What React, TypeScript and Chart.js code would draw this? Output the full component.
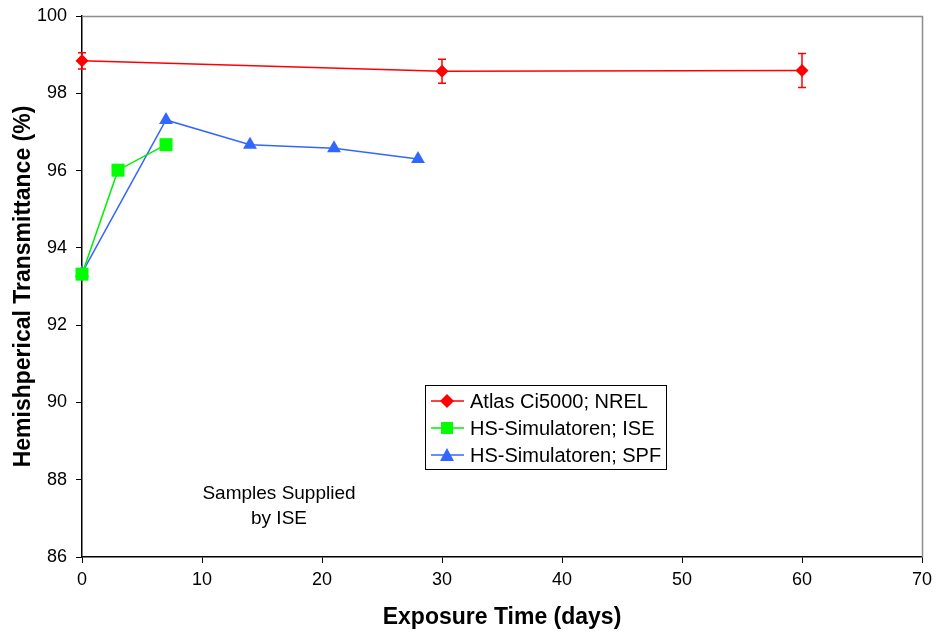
import React, { useEffect, useRef } from "react";
import { Chart, registerables } from "chart.js";
Chart.register(...registerables);

const atlasX = [0, 30, 60];
const atlasY = [98.84, 98.57, 98.59];
const atlasErr = [0.21, 0.31, 0.44];
const iseX = [0, 3, 7];
const iseY = [93.32, 96.01, 96.67];
const spfX = [0, 7, 14, 21, 28];
const spfY = [93.35, 97.31, 96.67, 96.58, 96.3];
const seriesNames = ["Atlas Ci5000; NREL", "HS-Simulatoren; ISE", "HS-Simulatoren; SPF"];
const note = ["Samples Supplied", "by ISE"];

const FONT = "'Liberation Sans', Arial, sans-serif";

export default function App() {
  const ref = useRef<HTMLCanvasElement>(null);
  useEffect(() => {
    const ctx = ref.current!.getContext("2d")!;
    const plugin = {
      id: "extras",
      afterDatasetsDraw(chart: any) {
        const c = chart.ctx;
        const xs = chart.scales.x;
        const ys = chart.scales.y;
        c.save();
        c.strokeStyle = "#ff0000";
        c.lineWidth = 1.5;
        atlasX.forEach((xv, i) => {
          const px = xs.getPixelForValue(xv);
          const t = ys.getPixelForValue(atlasY[i] + atlasErr[i]);
          const b = ys.getPixelForValue(atlasY[i] - atlasErr[i]);
          c.beginPath();
          c.moveTo(px, t); c.lineTo(px, b);
          c.moveTo(px - 4, t); c.lineTo(px + 4, t);
          c.moveTo(px - 4, b); c.lineTo(px + 4, b);
          c.stroke();
        });
        c.restore();
      },
      afterDraw(chart: any) {
        const c = chart.ctx;
        const a = chart.chartArea;
        c.save();
        c.strokeStyle = "#8c8c8c";
        c.lineWidth = 1.5;
        c.beginPath();
        c.moveTo(a.left, a.top + 0.5);
        c.lineTo(a.right + 0.5, a.top + 0.5);
        c.lineTo(a.right + 0.5, a.bottom);
        c.stroke();
        c.fillStyle = "#000";
        c.font = `19px ${FONT}`;
        c.textAlign = "center";
        c.textBaseline = "middle";
        c.fillText(note[0], 279, 494);
        c.fillText(note[1], 279, 519);
        const lx = 425, ly = 385, lw = 241, lh = 84;
        c.fillStyle = "#fff";
        c.fillRect(lx, ly, lw, lh);
        c.strokeStyle = "#000";
        c.lineWidth = 1;
        c.strokeRect(lx + 0.5, ly + 0.5, lw, lh);
        const rows = [401, 428, 455];
        chart.data.datasets.forEach((ds: any, i: number) => {
          const y = rows[i];
          c.strokeStyle = ds.borderColor;
          c.lineWidth = 1.5;
          c.beginPath();
          c.moveTo(431, y); c.lineTo(464, y);
          c.stroke();
          c.fillStyle = ds.pointBackgroundColor;
          c.beginPath();
          if (ds.pointStyle === "rectRot") {
            c.moveTo(447, y - 7); c.lineTo(454, y); c.lineTo(447, y + 7); c.lineTo(440, y);
          } else if (ds.pointStyle === "rect") {
            c.rect(441, y - 6, 12, 12);
          } else {
            c.moveTo(447, y - 7); c.lineTo(454, y + 6); c.lineTo(440, y + 6);
          }
          c.closePath();
          c.fill();
          c.fillStyle = "#000";
          c.font = `20px ${FONT}`;
          c.textAlign = "left";
          c.textBaseline = "middle";
          c.fillText(seriesNames[i], 470, y + 1);
        });
        c.restore();
      },
    };
    const chart = new Chart(ctx, {
      type: "scatter",
      data: {
        datasets: [
          {
            label: seriesNames[0],
            data: atlasX.map((x, i) => ({ x, y: atlasY[i] })),
            showLine: true,
            clip: false,
            borderColor: "#ff0000",
            backgroundColor: "#ff0000",
            pointBackgroundColor: "#ff0000",
            pointBorderColor: "#ff0000",
            borderWidth: 1.5,
            pointStyle: "rectRot",
            pointRadius: 6.5,
            pointBorderWidth: 0,
          },
          {
            label: seriesNames[1],
            data: iseX.map((x, i) => ({ x, y: iseY[i] })),
            showLine: true,
            clip: false,
            borderColor: "#00ee00",
            backgroundColor: "#00ff00",
            pointBackgroundColor: "#00ff00",
            pointBorderColor: "#00ff00",
            borderWidth: 1.5,
            pointStyle: "rect",
            pointRadius: 9.2,
            pointBorderWidth: 0,
          },
          {
            label: seriesNames[2],
            data: spfX.map((x, i) => ({ x, y: spfY[i] })),
            showLine: true,
            clip: false,
            borderColor: "#3366ff",
            backgroundColor: "#3366ff",
            pointBackgroundColor: "#3366ff",
            pointBorderColor: "#3366ff",
            borderWidth: 1.5,
            pointStyle: "triangle",
            pointRadius: 8,
            pointBorderWidth: 0,
          },
        ],
      },
      options: {
        animation: false,
        responsive: false,
        maintainAspectRatio: false,
        layout: { padding: { top: 16, right: 18, left: 0, bottom: 0 } },
        plugins: { legend: { display: false }, tooltip: { enabled: false } },
        scales: {
          x: {
            type: "linear",
            min: 0,
            max: 70,
            ticks: { stepSize: 10, color: "#000", font: { size: 18, family: FONT }, padding: 6 },
            grid: { drawOnChartArea: false, drawTicks: true, tickLength: 6, color: "#000" },
            border: { color: "#000", width: 1.5 },
            title: {
              display: true,
              text: "Exposure Time (days)",
              color: "#000",
              font: { size: 23, weight: "bold", family: FONT },
              padding: { top: 4 },
            },
            afterFit(s: any) { s.height = 78; s.paddingLeft = 0; s.paddingRight = 0; },
          },
          y: {
            type: "linear",
            min: 86,
            max: 100,
            ticks: { stepSize: 2, color: "#000", font: { size: 18, family: FONT }, padding: 9 },
            grid: { drawOnChartArea: false, drawTicks: true, tickLength: 6, color: "#000" },
            border: { color: "#000", width: 1.5 },
            title: {
              display: true,
              text: "Hemishperical Transmittance (%)",
              color: "#000",
              font: { size: 23, weight: "bold", family: FONT },
              padding: { top: 10, bottom: 4 },
            },
            afterFit(s: any) { s.width = 82; s.paddingTop = 0; s.paddingBottom = 0; },
          },
        },
      },
      plugins: [plugin],
    } as any);
    return () => chart.destroy();
  }, []);
  return (
    <div style={{ position: "fixed", left: 0, top: 0, width: 940, height: 635, background: "#fff" }}>
      <canvas ref={ref} width={940} height={635} style={{ width: 940, height: 635 }} />
    </div>
  );
}
